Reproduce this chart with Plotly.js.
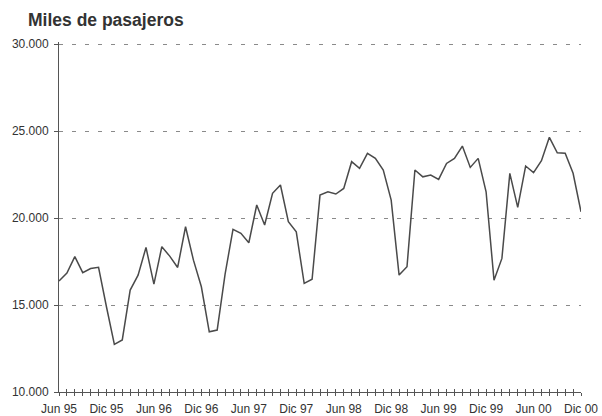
<!DOCTYPE html>
<html>
<head>
<meta charset="utf-8">
<script src="https://cdn.plot.ly/plotly-3.0.1.min.js"></script>
<style>
  html, body { margin: 0; padding: 0; background: #ffffff; }
  #chart { width: 602px; height: 416px; }
</style>
</head>
<body>
<div id="chart"></div>
<script>
// Monthly labels Jun 95 .. Dic 00
const monthNames = ["Ene","Feb","Mar","Abr","May","Jun","Jul","Ago","Sep","Oct","Nov","Dic"];
const startYear = 1995;
const startMonth = 5; // Jun
const nMonths = 67;

// Passengers (thousands)
const passengers = [
  16380, 16840, 17780, 16860, 17100, 17170, 14900,            // 1995 Jun-Dic
  12740, 12990, 15860, 16720, 18310, 16200, 18350, 17810, 17160, 19500, 17580, 16050, // 1996
  13460, 13560, 16780, 19350, 19120, 18580, 20750, 19600, 21420, 21900, 19790, 19210, // 1997
  16240, 16480, 21320, 21510, 21380, 21700, 23240, 22860, 23720, 23430, 22760, 21030, // 1998
  16720, 17200, 22760, 22370, 22470, 22220, 23140, 23430, 24140, 22910, 23430, 21510, // 1999
  16430, 17680, 22570, 20610, 22990, 22610, 23300, 24640, 23750, 23720, 22570, 20360  // 2000
];

const monthIndex = [];
const monthLabels = [];
for (let i = 0; i < nMonths; i++) {
  const m = (startMonth + i) % 12;
  const y = startYear + Math.floor((startMonth + i) / 12);
  monthIndex.push(i);
  monthLabels.push(monthNames[m] + " " + String(y % 100).padStart(2, "0"));
}
const tickText = monthLabels.map((l, i) => (i % 6 === 0 ? l : ""));

const yTicks = [10000, 15000, 20000, 25000, 30000];

const font = { family: "Liberation Sans, Arial, sans-serif", size: 12, color: "#333333" };

const trace = {
  x: monthIndex,
  y: passengers,
  type: "scatter",
  mode: "lines",
  line: { color: "#4a4a4a", width: 1.5 },
  hoverinfo: "skip"
};

// invisible helper trace to draw inside ticks on overlay axis
const helper = {
  x: monthIndex,
  y: passengers,
  xaxis: "x2",
  type: "scatter",
  mode: "lines",
  line: { color: "rgba(0,0,0,0)", width: 0 },
  hoverinfo: "skip",
  showlegend: false
};

const layout = {
  width: 602,
  height: 416,
  paper_bgcolor: "#ffffff",
  plot_bgcolor: "#ffffff",
  showlegend: false,
  separators: ",.",
  margin: { l: 59, r: 21, t: 42, b: 24, pad: 0 },
  font: font,
  title: {
    text: "<b>Miles de pasajeros</b>",
    font: { family: "Liberation Sans, Arial, sans-serif", size: 17.5, color: "#333333" },
    xref: "container", x: 28 / 602, xanchor: "left",
    yref: "container", y: 1 - 20 / 416, yanchor: "middle"
  },
  xaxis: {
    range: [0, nMonths - 1],
    tickmode: "array",
    tickvals: monthIndex,
    ticktext: tickText,
    ticks: "outside",
    ticklen: 3,
    tickcolor: "#555555",
    tickwidth: 1,
    ticklabelstandoff: 3,
    showline: true,
    linecolor: "#555555",
    linewidth: 1,
    showgrid: false,
    zeroline: false,
    tickangle: 0,
    tickfont: font,
    fixedrange: true
  },
  xaxis2: {
    overlaying: "x",
    anchor: "y",
    side: "bottom",
    range: [0, nMonths - 1],
    tickmode: "array",
    tickvals: monthIndex,
    ticktext: monthIndex.map(() => ""),
    ticks: "inside",
    ticklen: 3,
    tickcolor: "#555555",
    tickwidth: 1,
    showline: false,
    showgrid: false,
    zeroline: false,
    fixedrange: true
  },
  yaxis: {
    range: [10000, 30120],
    tickmode: "array",
    tickvals: yTicks,
    tickformat: ",d",
    ticks: "outside",
    ticklen: 4,
    tickcolor: "#555555",
    ticklabelstandoff: 3,
    showline: true,
    linecolor: "#555555",
    linewidth: 1,
    showgrid: true,
    gridcolor: "#8a8a8a",
    gridwidth: 1,
    griddash: "4px,9px",
    zeroline: false,
    tickfont: font,
    fixedrange: true
  }
};

Plotly.newPlot("chart", [trace, helper], layout, { displayModeBar: false, staticPlot: true });
</script>
</body>
</html>
